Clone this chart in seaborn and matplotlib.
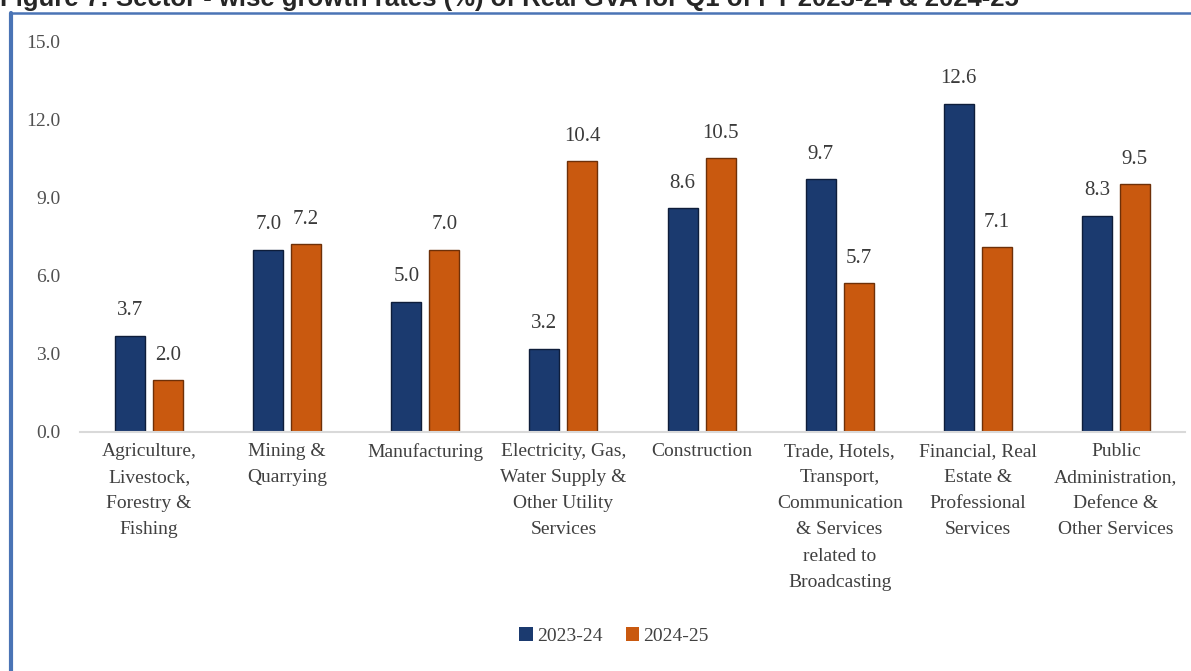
import pandas as pd
import seaborn as sns
import matplotlib.pyplot as plt
from matplotlib.lines import Line2D

sectors = [
    'Agriculture,\nLivestock,\nForestry &\nFishing',
    'Mining &\nQuarrying',
    'Manufacturing',
    'Electricity, Gas,\nWater Supply &\nOther Utility\nServices',
    'Construction',
    'Trade, Hotels,\nTransport,\nCommunication\n& Services\nrelated to\nBroadcasting',
    'Financial, Real\nEstate &\nProfessional\nServices',
    'Public\nAdministration,\nDefence &\nOther Services',
]
growth_2023_24 = [3.7, 7.0, 5.0, 3.2, 8.6, 9.7, 12.6, 8.3]
growth_2024_25 = [2.0, 7.2, 7.0, 10.4, 10.5, 5.7, 7.1, 9.5]
years = ['2023-24', '2024-25']
y_ticks = [0, 3, 6, 9, 12, 15]

df = pd.DataFrame({
    'Sector': sectors * 2,
    'Growth': growth_2023_24 + growth_2024_25,
    'Year': [years[0]] * len(sectors) + [years[1]] * len(sectors),
})

sns.set_style('white')
plt.rcParams['font.family'] = ['Liberation Serif', 'DejaVu Serif']

fig = plt.figure(figsize=(11.91, 6.71), dpi=100)
ax = fig.add_axes([80 / 1191, 239 / 671, 1105 / 1191, 391 / 671])

colors = {'2023-24': '#1B3A6F', '2024-25': '#C9590F'}
sns.barplot(data=df, x='Sector', y='Growth', hue='Year', palette=colors, saturation=1,
            width=0.55, gap=0.21, ax=ax, edgecolor='#0e1d3a', linewidth=1.0)
# darker outline for the orange bars
for bar in ax.containers[1]:
    bar.set_edgecolor('#6e3008')

for cont in ax.containers:
    ax.bar_label(cont, fmt='%.1f', padding=11, fontsize=15, color='#3a3a3a')

ax.set_ylim(0, 15)
ax.set_yticks(y_ticks)
ax.set_yticklabels([f'{t:.1f}' for t in y_ticks])
ax.set_xlim(-0.5, len(sectors) - 0.5)
ax.set_xticks(range(len(sectors)))
ax.set_xticklabels(sectors, linespacing=1.7)
ax.set_xlabel('')
ax.set_ylabel('')
ax.tick_params(axis='y', labelsize=14, labelcolor='#505050', pad=14, length=0)
ax.tick_params(axis='x', labelsize=14, labelcolor='#404040', pad=8, length=0)

for side in ['left', 'right', 'top']:
    ax.spines[side].set_visible(False)
ax.spines['bottom'].set_color('#d9d9d9')
ax.spines['bottom'].set_linewidth(1.5)

ax.get_legend().remove()
handles = [plt.Rectangle((0, 0), 1, 1, facecolor=colors[y], edgecolor='none') for y in years]
fig.legend(handles, years, loc='center', bbox_to_anchor=(614 / 1191, 35 / 671),
           ncol=2, frameon=False, fontsize=14, handlelength=0.7, handleheight=0.7,
           handletextpad=0.2, columnspacing=1.2, labelcolor='#404040')

# frame of the original chart box
fig.add_artist(Line2D([11 / 1191, 11 / 1191], [0, 1 - 13 / 671], color='#4a74b5', lw=3))
fig.add_artist(Line2D([11 / 1191, 1], [1 - 13 / 671, 1 - 13 / 671], color='#4a74b5', lw=1.8))

# title of the figure, cut off at the top edge as in the source
fig.text(0.0, 1 - 6 / 671, 'Figure 7: Sector - wise growth rates (%) of Real GVA for Q1 of FY 2023-24 & 2024-25',
         fontsize=18.5, fontweight='bold', family='Liberation Sans', va='baseline', ha='left')

plt.savefig('out.png', dpi=100)
